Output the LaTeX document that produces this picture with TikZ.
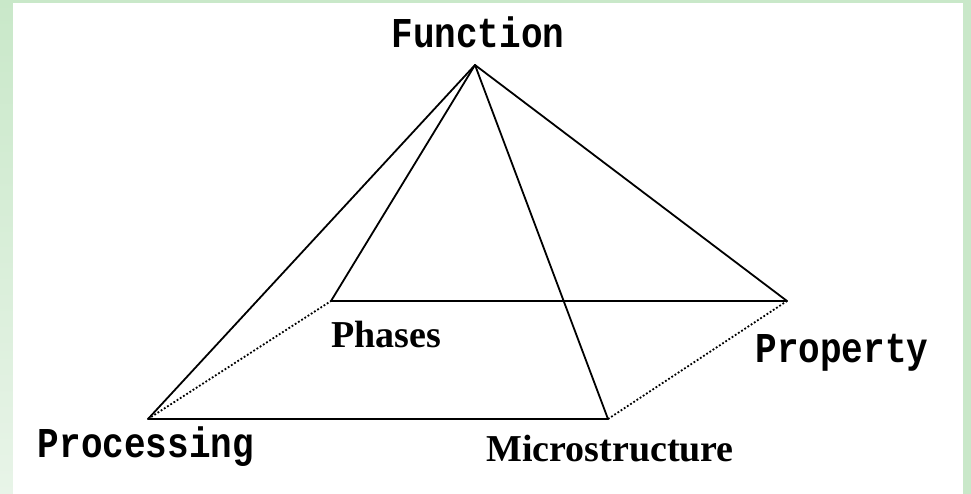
\documentclass[tikz,border=0pt]{standalone}
\usepackage{fontspec}
\usepackage{xcolor}
\newfontfamily\monofont{Liberation Mono}
\newfontfamily\seriffont{Liberation Serif}
\usetikzlibrary{positioning}
\definecolor{framegreen}{RGB}{201,232,201}
\definecolor{fadegreen}{RGB}{232,244,232}

\begin{document}
\begin{tikzpicture}[
  x=1pt,y=-1pt,
  edge/.style={line width=1.8pt,line cap=round},
  hidden/.style={line width=1.8pt,dash pattern=on 1.8pt off 2pt},
  mono/.style={font=\monofont\bfseries\fontsize{36}{36}\selectfont,inner sep=0pt,anchor=base},
  prop/.style={font=\seriffont\bfseries\fontsize{38}{38}\selectfont,inner sep=0pt,anchor=base}
]

%%%%%%%%%%%%%%%%%%%%%% frame %%%%%%%%%%%%%%%%%%%%%%%%%
\useasboundingbox (0,0) rectangle (971,494);
\fill[framegreen] (0,0) rectangle (971,494);
\shade[top color=framegreen,bottom color=fadegreen] (0,0) rectangle (13,494);
\fill[white] (13,3) rectangle (963,494);

%%%%%%%%%%%%%%%%%%%%%% corners of the pyramid %%%%%%%%%%%%%%%%%%%%%%%%%
\coordinate (apex)  at (475,65);
\coordinate (phs)   at (331,301);
\coordinate (prp)   at (787,301);
\coordinate (proc)  at (148,419);
\coordinate (micro) at (608,419);

%%%%%%%%%%%%%%%%%%%%%% edges %%%%%%%%%%%%%%%%%%%%%%%%%
\draw[edge] (apex) -- (proc);
\draw[edge] (apex) -- (phs);
\draw[edge] (apex) -- (micro);
\draw[edge] (apex) -- (prp);
\draw[edge] (phs) -- (prp);
\draw[edge] (proc) -- (micro);
\draw[hidden] (proc) -- (phs);
\draw[hidden] (micro) -- (prp);

%%%%%%%%%%%%%%%%%%%%%% labels %%%%%%%%%%%%%%%%%%%%%%%%%
\node[mono] (fun)  at (478,48)  {\scalebox{1}[1.18]{Function}};
\node[prop] (phl)  at (386,347) {Phases};
\node[mono] (prl)  at (842,362) {\scalebox{1}[1.18]{Property}};
\node[mono] (pcl)  at (146,457) {\scalebox{1}[1.18]{Processing}};
\node[prop] (mil)  at (610,461) {Microstructure};
\end{tikzpicture}
\end{document}
